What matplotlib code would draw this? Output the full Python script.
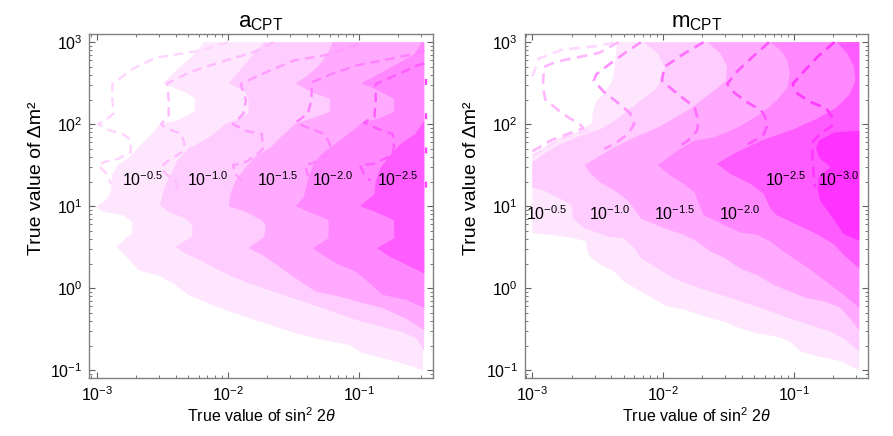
import numpy as np
import matplotlib
matplotlib.use("Agg")
import matplotlib.pyplot as plt

plt.rcParams['font.family'] = ['Liberation Sans', 'DejaVu Sans']
plt.rcParams['mathtext.fontset'] = 'custom'
plt.rcParams['mathtext.rm'] = 'Liberation Sans'
plt.rcParams['mathtext.it'] = 'Liberation Sans:italic'
plt.rcParams['mathtext.default'] = 'regular'

# everything below is log10(sin^2 2theta), log10(dm^2)
X_EDGE = -0.5   # last computed sin^2 2theta
Y_TOP = 3.0     # last computed dm^2

LEVEL_TEXT = ["-0.5", "-1.0", "-1.5", "-2.0", "-2.5", "-3.0"]
FILL_COLORS = ["#ffe6ff", "#ffccff", "#ffaaff", "#ff88ff", "#ff5cff", "#ff33ff"]

# ---- a_CPT : edges of the filled regions (region lies to the right) ----
a_edge_05 = [(-2.18, 3.00), (-2.24, 2.88), (-2.32, 2.76), (-2.41, 2.63), (-2.49, 2.50), (-2.42, 2.45),
             (-2.30, 2.37), (-2.25, 2.31), (-2.25, 2.17), (-2.30, 2.11), (-2.40, 2.04), (-2.51, 2.01),
             (-2.58, 1.88), (-2.68, 1.72), (-2.75, 1.60), (-2.84, 1.50), (-2.88, 1.39), (-2.89, 1.19),
             (-2.92, 1.09), (-2.99, 1.01), (-3.00, 0.98), (-2.94, 0.93), (-2.80, 0.89), (-2.73, 0.81),
             (-2.73, 0.67), (-2.85, 0.51), (-2.80, 0.43), (-2.68, 0.22), (-2.52, 0.15), (-2.40, 0.04),
             (-2.30, -0.08), (-2.17, -0.17), (-1.99, -0.28), (-1.79, -0.39), (-1.63, -0.47), (-1.48, -0.55),
             (-1.28, -0.63), (-1.07, -0.69), (-0.97, -0.79), (-0.82, -0.85), (-0.64, -0.93), (-0.51, -1.00)]
a_edge_10 = [(-1.72, 3.00), (-1.84, 2.78), (-1.91, 2.65), (-1.99, 2.50), (-1.86, 2.39), (-1.84, 2.29),
             (-1.84, 2.13), (-1.94, 2.05), (-2.02, 2.00), (-2.14, 1.84), (-2.30, 1.70), (-2.38, 1.56),
             (-2.42, 1.43), (-2.46, 1.31), (-2.49, 1.19), (-2.51, 1.05), (-2.52, 1.02), (-2.45, 0.93),
             (-2.32, 0.85), (-2.27, 0.77), (-2.27, 0.63), (-2.40, 0.51), (-2.33, 0.43), (-2.22, 0.35),
             (-2.09, 0.24), (-1.96, 0.14), (-1.84, 0.06), (-1.71, -0.01), (-1.58, -0.08), (-1.43, -0.16),
             (-1.28, -0.24), (-1.12, -0.33), (-0.97, -0.41), (-0.82, -0.47), (-0.67, -0.53), (-0.56, -0.61),
             (-0.50, -0.77)]
a_edge_15 = [(-1.20, 3.00), (-1.23, 2.88), (-1.31, 2.70), (-1.41, 2.57), (-1.48, 2.50), (-1.36, 2.39),
             (-1.22, 2.31), (-1.22, 2.15), (-1.36, 2.07), (-1.48, 2.01), (-1.57, 1.88), (-1.67, 1.72),
             (-1.79, 1.60), (-1.86, 1.48), (-1.94, 1.31), (-1.98, 1.15), (-1.99, 1.00), (-1.86, 0.93),
             (-1.74, 0.83), (-1.71, 0.77), (-1.72, 0.63), (-1.84, 0.49), (-1.74, 0.41), (-1.63, 0.29),
             (-1.48, 0.12), (-1.33, -0.04), (-1.15, -0.10), (-0.97, -0.18), (-0.82, -0.24), (-0.64, -0.37),
             (-0.50, -0.51)]
a_edge_20 = [(-0.52, 3.00), (-0.57, 2.86), (-0.70, 2.74), (-0.85, 2.61), (-0.98, 2.50), (-0.85, 2.41),
             (-0.73, 2.31), (-0.73, 2.15), (-0.85, 2.07), (-0.98, 2.01), (-1.08, 1.88), (-1.18, 1.76),
             (-1.28, 1.64), (-1.35, 1.50), (-1.39, 1.31), (-1.42, 1.11), (-1.48, 1.00), (-1.38, 0.93),
             (-1.23, 0.83), (-1.23, 0.61), (-1.35, 0.49), (-1.28, 0.41), (-1.18, 0.31), (-1.02, 0.20),
             (-0.90, 0.04), (-0.82, -0.08), (-0.64, -0.14), (-0.50, -0.24)]
a_edge_25 = [(-0.50, 2.04), (-0.57, 1.88), (-0.68, 1.76), (-0.75, 1.64), (-0.83, 1.48), (-0.87, 1.31),
             (-0.88, 1.15), (-0.99, 1.00), (-0.87, 0.93), (-0.73, 0.83), (-0.73, 0.61), (-0.86, 0.49),
             (-0.77, 0.39), (-0.64, 0.29), (-0.50, 0.18)]

# ---- a_CPT : dashed contours ----
a_dash_1 = [(-2.00, 3.00), (-2.20, 2.90), (-2.55, 2.81), (-2.73, 2.67), (-2.88, 2.49), (-2.88, 2.29),
            (-2.87, 2.13), (-2.94, 2.04), (-2.99, 2.00), (-2.91, 1.93), (-2.80, 1.88), (-2.74, 1.81),
            (-2.74, 1.66), (-2.83, 1.58), (-2.94, 1.54), (-2.99, 1.50), (-2.92, 1.39), (-2.89, 1.27)]
a_dash_2 = [(-1.65, 3.00), (-1.80, 2.88), (-2.05, 2.76), (-2.28, 2.64), (-2.46, 2.50), (-2.45, 2.29),
            (-2.45, 2.11), (-2.51, 2.00), (-2.45, 1.94), (-2.35, 1.88), (-2.33, 1.76), (-2.35, 1.66),
            (-2.45, 1.56), (-2.51, 1.48), (-2.47, 1.39), (-2.40, 1.31), (-2.38, 1.19)]
a_dash_3 = [(-1.00, 2.97), (-1.18, 2.88), (-1.26, 2.84), (-1.49, 2.78), (-1.77, 2.59), (-1.90, 2.49),
            (-1.86, 2.29), (-1.88, 2.13), (-1.96, 2.00), (-1.86, 1.92), (-1.74, 1.88), (-1.73, 1.70),
            (-1.77, 1.64), (-1.86, 1.54), (-1.96, 1.50), (-1.94, 1.39), (-1.86, 1.27)]
a_dash_4 = [(-0.50, 2.90), (-0.57, 2.86), (-0.75, 2.80), (-1.01, 2.72), (-1.21, 2.61), (-1.36, 2.51),
            (-1.36, 2.29), (-1.39, 2.13), (-1.48, 2.02), (-1.36, 1.94), (-1.26, 1.88), (-1.22, 1.76),
            (-1.23, 1.64), (-1.33, 1.54), (-1.41, 1.50), (-1.39, 1.39), (-1.33, 1.31)]
a_dash_5 = [(-0.50, 2.74), (-0.55, 2.72), (-0.70, 2.61), (-0.87, 2.49), (-0.87, 2.29), (-0.88, 2.09),
            (-0.96, 2.02), (-0.85, 1.94), (-0.74, 1.88), (-0.73, 1.72), (-0.75, 1.62), (-0.88, 1.52),
            (-0.99, 1.50), (-0.96, 1.39), (-0.91, 1.31)]
a_dash_6 = [(-0.49, 2.55), (-0.49, 0.90)]

a_label_x = [-2.65, -2.15, -1.62, -1.20, -0.70]
a_label_y = [1.32, 1.32, 1.32, 1.32, 1.32]

# ---- m_CPT : edges of the filled regions ----
m_edge_05 = [(-2.35, 3.00), (-2.36, 2.90), (-2.37, 2.70), (-2.39, 2.53), (-2.45, 2.37), (-2.51, 2.29),
             (-2.54, 2.13), (-2.54, 2.02), (-2.63, 1.92), (-2.78, 1.84), (-2.91, 1.72), (-3.00, 1.60),
             (-3.00, 0.67), (-2.91, 0.66), (-2.81, 0.64), (-2.68, 0.61), (-2.59, 0.57), (-2.58, 0.45),
             (-2.55, 0.37), (-2.48, 0.29), (-2.37, 0.20), (-2.30, 0.08), (-2.17, -0.04), (-2.04, -0.16),
             (-1.97, -0.22), (-1.84, -0.26), (-1.71, -0.33), (-1.53, -0.41), (-1.41, -0.49), (-1.28, -0.55),
             (-1.13, -0.59), (-1.03, -0.65), (-0.95, -0.77), (-0.82, -0.83), (-0.64, -0.89), (-0.50, -1.00)]
m_edge_10 = [(-2.15, 3.00), (-2.04, 2.86), (-1.99, 2.70), (-2.01, 2.53), (-2.07, 2.41), (-2.17, 2.29),
             (-2.27, 2.17), (-2.37, 2.04), (-2.48, 1.94), (-2.63, 1.86), (-2.81, 1.74), (-3.00, 1.54),
             (-3.00, 1.23), (-2.91, 1.19), (-2.81, 1.11), (-2.70, 1.02), (-2.69, 0.85), (-2.60, 0.73),
             (-2.42, 0.63), (-2.30, 0.61), (-2.22, 0.49), (-2.17, 0.37), (-2.04, 0.24), (-1.92, 0.12),
             (-1.79, 0.04), (-1.64, -0.04), (-1.48, -0.12), (-1.33, -0.20), (-1.18, -0.28), (-1.03, -0.37),
             (-0.87, -0.45), (-0.72, -0.53), (-0.62, -0.61), (-0.50, -0.77)]
m_edge_15 = [(-1.66, 3.00), (-1.56, 2.86), (-1.51, 2.70), (-1.52, 2.53), (-1.61, 2.41), (-1.71, 2.29),
             (-1.79, 2.19), (-1.92, 2.07), (-2.04, 1.96), (-2.22, 1.84), (-2.37, 1.72), (-2.50, 1.60),
             (-2.60, 1.50), (-2.55, 1.39), (-2.48, 1.29), (-2.37, 1.19), (-2.27, 1.07), (-2.22, 0.97),
             (-2.17, 0.85), (-1.99, 0.73), (-1.84, 0.65), (-1.74, 0.57), (-1.64, 0.45), (-1.53, 0.37),
             (-1.41, 0.24), (-1.28, 0.16), (-1.15, 0.04), (-1.03, -0.04), (-0.90, -0.12), (-0.77, -0.16),
             (-0.64, -0.24), (-0.50, -0.51)]
m_edge_20 = [(-1.18, 3.00), (-1.10, 2.90), (-1.05, 2.78), (-1.03, 2.61), (-1.05, 2.45), (-1.13, 2.29),
             (-1.25, 2.13), (-1.43, 1.96), (-1.61, 1.84), (-1.76, 1.80), (-1.89, 1.68), (-1.99, 1.56),
             (-2.04, 1.50), (-1.96, 1.39), (-1.86, 1.29), (-1.76, 1.17), (-1.71, 0.97), (-1.69, 0.89),
             (-1.53, 0.77), (-1.41, 0.68), (-1.28, 0.65), (-1.18, 0.57), (-1.08, 0.45), (-0.97, 0.33),
             (-0.85, 0.20), (-0.72, 0.04), (-0.62, -0.08), (-0.50, -0.24)]
m_edge_25 = [(-0.67, 3.00), (-0.59, 2.86), (-0.54, 2.70), (-0.53, 2.53), (-0.57, 2.37), (-0.67, 2.21),
             (-0.82, 2.07), (-1.00, 1.94), (-1.25, 1.80), (-1.46, 1.64), (-1.59, 1.52), (-1.48, 1.39),
             (-1.33, 1.27), (-1.23, 1.15), (-1.18, 0.97), (-1.13, 0.89), (-0.97, 0.77), (-0.85, 0.68),
             (-0.77, 0.61), (-0.69, 0.53), (-0.62, 0.41), (-0.50, 0.24)]
m_edge_30 = [(-0.50, 1.92), (-0.69, 1.90), (-0.81, 1.80), (-0.83, 1.70), (-0.80, 1.58), (-0.72, 1.48),
             (-0.81, 1.35), (-0.82, 1.23), (-0.80, 1.07), (-0.69, 0.83), (-0.62, 0.66), (-0.50, 0.58)]

# ---- m_CPT : dashed contours ----
m_dash_0 = [(-3.00, 2.58), (-2.95, 2.80), (-2.77, 2.91), (-2.52, 2.95), (-2.36, 3.00)]
m_dash_0b = [(-2.57, 1.93), (-2.80, 1.81), (-3.00, 1.61)]
m_dash_1 = [(-2.34, 3.00), (-2.49, 2.87), (-2.82, 2.76), (-2.91, 2.70), (-2.92, 2.46), (-2.90, 2.30),
            (-2.77, 2.13), (-2.63, 1.99), (-2.61, 1.95), (-2.85, 1.81), (-3.00, 1.67)]
m_dash_2 = [(-2.17, 3.00), (-2.30, 2.86), (-2.42, 2.72), (-2.51, 2.61), (-2.53, 2.53), (-2.45, 2.39),
            (-2.32, 2.23), (-2.25, 2.13), (-2.22, 2.00), (-2.27, 1.88), (-2.37, 1.76), (-2.45, 1.70)]
m_dash_3 = [(-1.69, 3.00), (-1.84, 2.86), (-1.99, 2.70), (-2.01, 2.53), (-1.89, 2.37), (-1.76, 2.21),
            (-1.73, 2.04), (-1.74, 1.92), (-1.81, 1.80), (-1.87, 1.74)]
m_dash_4 = [(-1.19, 3.00), (-1.33, 2.80), (-1.43, 2.65), (-1.51, 2.49), (-1.46, 2.39), (-1.36, 2.27),
            (-1.25, 2.17), (-1.22, 2.09), (-1.20, 2.00), (-1.23, 1.88), (-1.30, 1.80), (-1.35, 1.76)]
m_dash_5 = [(-0.69, 3.00), (-0.82, 2.82), (-0.92, 2.65), (-1.01, 2.49), (-0.97, 2.37), (-0.87, 2.27),
            (-0.75, 2.19), (-0.71, 2.09), (-0.71, 1.98), (-0.80, 1.88), (-0.85, 1.80), (-0.86, 1.64),
            (-0.85, 1.43), (-0.84, 1.23)]

m_label_x = [-2.89, -2.41, -1.91, -1.41, -1.06, -0.66]
m_label_y = [0.915, 0.915, 0.915, 0.915, 1.32, 1.32]


def region(edge):
    pts = np.array(edge)
    if pts[0, 1] >= Y_TOP:
        pts = np.vstack([pts, [X_EDGE, Y_TOP]])
    return 10 ** pts[:, 0], 10 ** pts[:, 1]


def dashed(ax, line, color, lw=1.7, dashes=(4, 2.5)):
    pts = np.array(line)
    ax.plot(10 ** pts[:, 0], 10 ** pts[:, 1], color=color, lw=lw,
            dashes=dashes, dash_capstyle='butt')


def style_axes(ax, title):
    ax.set_xscale('log')
    ax.set_yscale('log')
    ax.set_xlim(10 ** -3.056, 10 ** -0.433)
    ax.set_ylim(10 ** -1.094, 10 ** 3.10)
    for s in ax.spines.values():
        s.set_color('#808080')
        s.set_linewidth(1.0)
    ax.tick_params(which='both', direction='in', top=True, right=True, colors='#606060',
                   labelcolor='black', labelsize=11.5)
    ax.tick_params(which='major', length=4.5, width=0.8, pad=5)
    ax.tick_params(which='minor', length=2.2, width=0.6)
    ax.set_title(title, fontsize=16, pad=5)
    ax.set_xlabel(r'True value of sin$^{2}$ 2$\mathit{\theta}$', fontsize=11.5, labelpad=2)
    ax.set_ylabel('True value of Δm²', fontsize=14)
    ax.yaxis.set_label_coords(-0.13, 0.58)


fig = plt.figure(figsize=(8.93, 4.36), dpi=100)
ax1 = fig.add_axes([89.3 / 893, 1 - 378 / 436, 343.7 / 893, 344 / 436])
ax2 = fig.add_axes([525 / 893, 1 - 378 / 436, 343.0 / 893, 344 / 436])

a_edges = [a_edge_05, a_edge_10, a_edge_15, a_edge_20, a_edge_25]
for i, edge in enumerate(a_edges):
    xs, ys = region(edge)
    ax1.fill(xs, ys, color=FILL_COLORS[i], lw=0)

a_dashes = [a_dash_1, a_dash_2, a_dash_3, a_dash_4, a_dash_5]
a_dash_colors = ["#ffd4ff", "#ffbcff", "#ff9cff", "#ff80ff", "#ff5cff"]
for line, c in zip(a_dashes, a_dash_colors):
    dashed(ax1, line, c)
dashed(ax1, a_dash_6, "#ff44ff", dashes=(2.5, 12))

for i in range(len(a_label_x)):
    ax1.text(10 ** a_label_x[i], 10 ** a_label_y[i], r'$10^{' + LEVEL_TEXT[i] + '}$',
             ha='center', va='center', fontsize=11.5)

m_edges = [m_edge_05, m_edge_10, m_edge_15, m_edge_20, m_edge_25, m_edge_30]
for i, edge in enumerate(m_edges):
    xs, ys = region(edge)
    ax2.fill(xs, ys, color=FILL_COLORS[i], lw=0)

m_dashes = [m_dash_0, m_dash_0b, m_dash_1, m_dash_2, m_dash_3, m_dash_4, m_dash_5]
m_dash_colors = ["#ffd8ff", "#ffd8ff", "#ffb8ff", "#ff90ff", "#ff70ff", "#ff55ff", "#ff38ff"]
for line, c in zip(m_dashes, m_dash_colors):
    dashed(ax2, line, c, lw=1.9)

for i in range(len(m_label_x)):
    ax2.text(10 ** m_label_x[i], 10 ** m_label_y[i], r'$10^{' + LEVEL_TEXT[i] + '}$',
             ha='center', va='center', fontsize=11.5)

style_axes(ax1, r'a$_{\mathrm{CPT}}$')
style_axes(ax2, r'm$_{\mathrm{CPT}}$')

fig.savefig("out.png", dpi=100, facecolor='white')
